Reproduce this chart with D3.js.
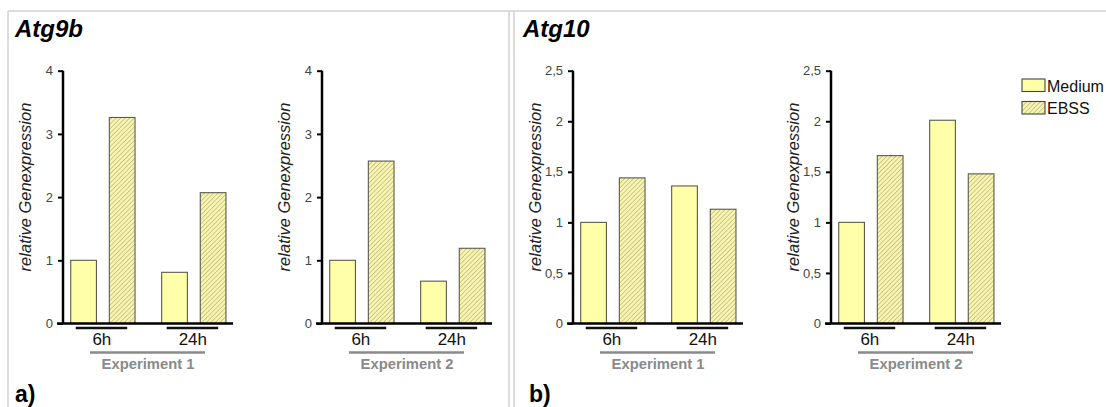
<!DOCTYPE html>
<html>
<head>
<meta charset="utf-8">
<script src="https://cdn.jsdelivr.net/npm/d3@7"></script>
<style>
  html, body { margin: 0; padding: 0; background: #fff; }
  svg { display: block; font-family: "Liberation Sans", Arial, sans-serif; }
</style>
</head>
<body>
<svg id="chart" width="1106" height="407"></svg>
<script>
// Relative gene expression, Medium vs. EBSS after 6h and 24h
const timepoints = ["6h", "24h"];
const conditions = ["Medium", "EBSS"];

// values per timepoint: [Medium, EBSS]
const atg9bExp1 = [[1.0, 3.26], [0.81, 2.07]];
const atg9bExp2 = [[1.0, 2.57], [0.67, 1.19]];
const atg10Exp1 = [[1.0, 1.44], [1.36, 1.13]];
const atg10Exp2 = [[1.0, 1.66], [2.01, 1.48]];

const atg9bTicks = [0, 1, 2, 3, 4];
const atg10Ticks = [0, 0.5, 1, 1.5, 2, 2.5];

const panels = [
  { values: atg9bExp1, max: 4, ticks: atg9bTicks, axisX: 63, experiment: "Experiment 1" },
  { values: atg9bExp2, max: 4, ticks: atg9bTicks, axisX: 322, experiment: "Experiment 2" },
  { values: atg10Exp1, max: 2.5, ticks: atg10Ticks, axisX: 573, experiment: "Experiment 1" },
  { values: atg10Exp2, max: 2.5, ticks: atg10Ticks, axisX: 831, experiment: "Experiment 2" }
];

const svg = d3.select("#chart");

// hatch pattern for the EBSS bars
const defs = svg.append("defs");
const pat = defs.append("pattern")
  .attr("id", "hatch")
  .attr("patternUnits", "userSpaceOnUse")
  .attr("width", 3.2).attr("height", 3.2)
  .attr("patternTransform", "rotate(45)");
pat.append("rect").attr("width", 3.2).attr("height", 3.2).attr("fill", "#f7f4b4");
pat.append("line").attr("x1", 0).attr("y1", 0).attr("x2", 0).attr("y2", 3.2)
  .attr("stroke", "#b8b36a").attr("stroke-width", 1.3);

const fillFor = c => c === "Medium" ? "#ffffaa" : "url(#hatch)";

// frame around the two figure parts
const frame = svg.append("g").attr("stroke", "#d2d2d2").attr("stroke-width", 1.5).attr("fill", "none");
frame.append("line").attr("x1", 8).attr("x2", 1106).attr("y1", 11).attr("y2", 11);
frame.append("line").attr("x1", 8).attr("x2", 8).attr("y1", 11).attr("y2", 407);
frame.append("line").attr("x1", 509).attr("x2", 509).attr("y1", 11).attr("y2", 407);
frame.append("line").attr("x1", 514).attr("x2", 514).attr("y1", 11).attr("y2", 407);

// titles and part letters
svg.append("text").attr("x", 15).attr("y", 37).text("Atg9b")
  .attr("font-size", 24).attr("font-weight", "bold").attr("font-style", "italic");
svg.append("text").attr("x", 523).attr("y", 37).text("Atg10")
  .attr("font-size", 24).attr("font-weight", "bold").attr("font-style", "italic");
svg.append("text").attr("x", 15).attr("y", 402).text("a)")
  .attr("font-size", 23).attr("font-weight", "bold");
svg.append("text").attr("x", 529).attr("y", 402).text("b)")
  .attr("font-size", 23).attr("font-weight", "bold");

const yTop = 70.7, yBottom = 323.5;
const fmt = d => String(d).replace(".", ",");

panels.forEach(p => {
  const g = svg.append("g").attr("transform", `translate(${p.axisX},0)`);
  const y = d3.scaleLinear().domain([0, p.max]).range([yBottom, yTop]);

  const x0 = d3.scaleBand().domain(timepoints).range([0, 170.7])
    .paddingInner(0.293).paddingOuter(0.085);
  const x1 = d3.scaleBand().domain(conditions).range([0, x0.bandwidth()])
    .paddingInner(0.334).paddingOuter(0);

  // bars
  const groups = g.selectAll("g.tp").data(timepoints).join("g")
    .attr("class", "tp")
    .attr("transform", t => `translate(${x0(t)},0)`);
  groups.selectAll("rect")
    .data((t, i) => conditions.map((c, j) => ({ c, v: p.values[i][j] })))
    .join("rect")
    .attr("x", d => x1(d.c))
    .attr("width", x1.bandwidth())
    .attr("y", d => y(d.v))
    .attr("height", d => yBottom - y(d.v))
    .attr("fill", d => fillFor(d.c))
    .attr("stroke", "#5a5a4a")
    .attr("stroke-width", 1.1);

  // y axis
  const ax = g.append("g").call(
    d3.axisLeft(y).tickValues(p.ticks).tickFormat(fmt).tickSize(5).tickPadding(5)
  );
  ax.select(".domain").attr("stroke", "#000").attr("stroke-width", 2.5)
    .attr("d", `M0,${yBottom}V${yTop}`);
  ax.selectAll(".tick line").attr("stroke", "#000").attr("stroke-width", 2);
  ax.selectAll(".tick text").attr("fill", "#444").attr("font-size", 13)
    .attr("font-family", "Liberation Sans, Arial, sans-serif");

  // x baseline
  g.append("line").attr("x1", -6).attr("x2", 170).attr("y1", yBottom).attr("y2", yBottom)
    .attr("stroke", "#000").attr("stroke-width", 2.5);

  // timepoint brackets and labels
  timepoints.forEach(t => {
    const bx = x0(t);
    g.append("line").attr("x1", bx + 5).attr("x2", bx + 56.5)
      .attr("y1", 328).attr("y2", 328)
      .attr("stroke", "#111").attr("stroke-width", 2.5);
    g.append("text").attr("x", bx + x0.bandwidth() / 2 - 1).attr("y", 344.5)
      .attr("text-anchor", "middle").attr("font-size", 17).attr("fill", "#111").text(t);
  });

  // experiment bracket
  g.append("line").attr("x1", 27).attr("x2", 142).attr("y1", 352.5).attr("y2", 352.5)
    .attr("stroke", "#8a8a8a").attr("stroke-width", 2.5);
  g.append("text").attr("x", 85).attr("y", 368.5).attr("text-anchor", "middle")
    .attr("font-size", 14.8).attr("font-weight", "bold").attr("fill", "#8a8a8a")
    .text(p.experiment);

  // y axis title
  g.append("text")
    .attr("transform", `translate(-32,187) rotate(-90)`)
    .attr("text-anchor", "middle").attr("font-size", 16.5).attr("font-style", "italic")
    .attr("fill", "#222").text("relative Genexpression");
});

// legend
const legend = svg.append("g").attr("transform", "translate(1022,79)");
conditions.forEach((c, i) => {
  const row = legend.append("g").attr("transform", `translate(0,${i * 22.5})`);
  row.append("rect").attr("width", 23).attr("height", 12.5)
    .attr("fill", fillFor(c)).attr("stroke", "#444").attr("stroke-width", 1.1);
  row.append("text").attr("x", 25).attr("y", 12.5).attr("font-size", 16)
    .attr("fill", "#111").text(c);
});
</script>
</body>
</html>
